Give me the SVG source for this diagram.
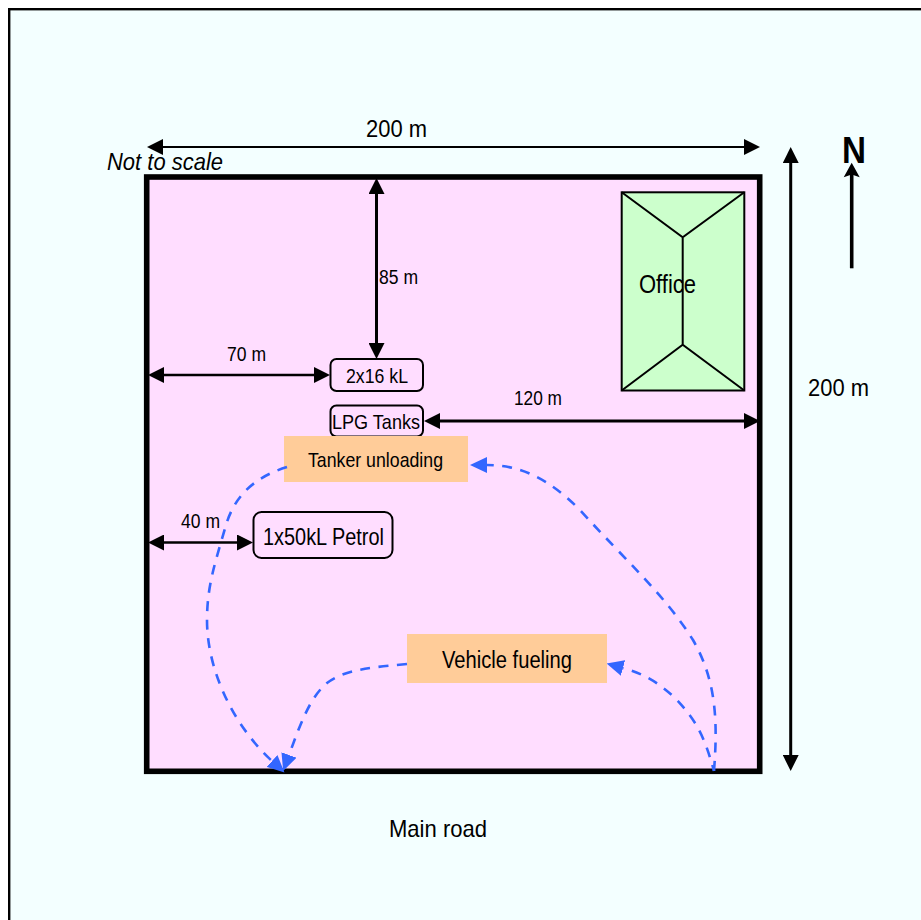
<svg xmlns="http://www.w3.org/2000/svg" width="921" height="920" viewBox="0 0 921 920">
<style>
text{font-family:"Liberation Sans",Arial,sans-serif;fill:#000}
.dim{stroke:#000;fill:none;marker-start:url(#h);marker-end:url(#h)}
.flow{stroke:#3366FF;stroke-width:2.6;fill:none;stroke-dasharray:10 8.5;marker-end:url(#b)}
.box{fill:#FFDDFF;stroke:#000;stroke-width:2}
.org{fill:#FFCC99}
.roof{fill:#CCFFCC;stroke:#000;stroke-width:2}
</style>
<defs>
<marker id="h" markerUnits="userSpaceOnUse" markerWidth="16" markerHeight="16" viewBox="0 -8 16 16" refX="0" refY="0" orient="auto-start-reverse"><path d="M0-8L16 0L0 8z" fill="#000"/></marker>
<marker id="b" markerUnits="userSpaceOnUse" markerWidth="17" markerHeight="16" viewBox="0 -8 17 16" refX="0" refY="0" orient="auto"><path d="M0-8L17 0L0 8z" fill="#3366FF"/></marker>
</defs>
<rect id="background" x="9.2" y="9.2" width="930" height="930" fill="#F3FFFF" stroke="#000" stroke-width="2.4"/>
<rect id="site" x="146.7" y="177" width="613" height="594.3" fill="#FFDDFF" stroke="#000" stroke-width="5.6"/>
<g id="office">
<rect class="roof" x="621.7" y="192.3" width="122.6" height="198.2"/>
<path class="roof" d="M621.7 192.3L682.7 237.3L744.3 192.3M682.7 237.3V344.7M621.7 390.5L682.7 344.7L744.3 390.5" style="fill:none"/>
<text x="639" y="293" font-size="26" textLength="57" lengthAdjust="spacingAndGlyphs">Office</text>
</g>
<g id="tank-2x16"><rect class="box" x="330.5" y="359" width="92.5" height="32" rx="6"/><text x="346" y="383" font-size="21" textLength="62" lengthAdjust="spacingAndGlyphs">2x16 kL</text></g>
<g id="lpg-tanks"><rect class="box" x="330.5" y="405.5" width="92.5" height="31" rx="6"/><text x="332" y="429" font-size="21" textLength="88" lengthAdjust="spacingAndGlyphs">LPG Tanks</text></g>
<g id="tanker-unloading"><rect class="org" x="284" y="436" width="184" height="46"/><text x="308" y="467" font-size="21" textLength="135" lengthAdjust="spacingAndGlyphs">Tanker unloading</text></g>
<g id="petrol"><rect class="box" x="253.5" y="512" width="139" height="46" rx="8"/><text x="263" y="545" font-size="24" textLength="121" lengthAdjust="spacingAndGlyphs">1x50kL Petrol</text></g>
<g id="vehicle-fueling"><rect class="org" x="407" y="634" width="200" height="49"/><text x="442" y="668" font-size="23" textLength="130" lengthAdjust="spacingAndGlyphs">Vehicle fueling</text></g>
<g id="connectors">
<path class="dim" stroke-width="2" d="M163 147H744"/>
<path class="dim" stroke-width="3" d="M790.7 163V755"/>
<path class="dim" stroke-width="3" d="M376.5 194V343"/>
<path class="dim" stroke-width="2.4" d="M164 375H314"/>
<path class="dim" stroke-width="2.8" d="M440 421H744"/>
<path class="dim" stroke-width="2.6" d="M164 542.5H237"/>
<path d="M851.7 268.3V174" stroke="#000" stroke-width="3.6" fill="none"/>
<path d="M851.7 162.7L859.7 177.3L851.7 174.5L843.7 177.3z" fill="#000"/>
<path class="flow" d="M287 467C255 477 235 495 226 525C216 560 207 585 207 620C207 670 233 725 272 761"/>
<path class="flow" d="M407 664C375 667 345 669 327 683C310 697 300 725 289 755"/>
<path class="flow" style="stroke-dashoffset:4" d="M714 771C704 735 696 720 675 698C660 684 645 674 623 668"/>
<path class="flow" d="M714 771C718 720 716 680 693 640C665 595 625 560 580 510C548 478 520 465 487 465"/>
</g>
<g id="labels">
<text x="366" y="137" font-size="24" textLength="61" lengthAdjust="spacingAndGlyphs">200 m</text>
<text x="107" y="170" font-size="24" font-style="italic" textLength="116" lengthAdjust="spacingAndGlyphs">Not to scale</text>
<text x="379" y="284" font-size="20" textLength="39" lengthAdjust="spacingAndGlyphs">85 m</text>
<text x="227" y="361" font-size="20" textLength="39" lengthAdjust="spacingAndGlyphs">70 m</text>
<text x="514" y="405" font-size="20" textLength="48" lengthAdjust="spacingAndGlyphs">120 m</text>
<text x="181" y="528" font-size="20" textLength="39" lengthAdjust="spacingAndGlyphs">40 m</text>
<text x="808" y="396" font-size="24" textLength="61" lengthAdjust="spacingAndGlyphs">200 m</text>
<text x="842" y="163" font-size="36" font-weight="bold" textLength="24" lengthAdjust="spacingAndGlyphs">N</text>
<text x="389" y="837" font-size="24" textLength="98" lengthAdjust="spacingAndGlyphs">Main road</text>
</g>
</svg>
